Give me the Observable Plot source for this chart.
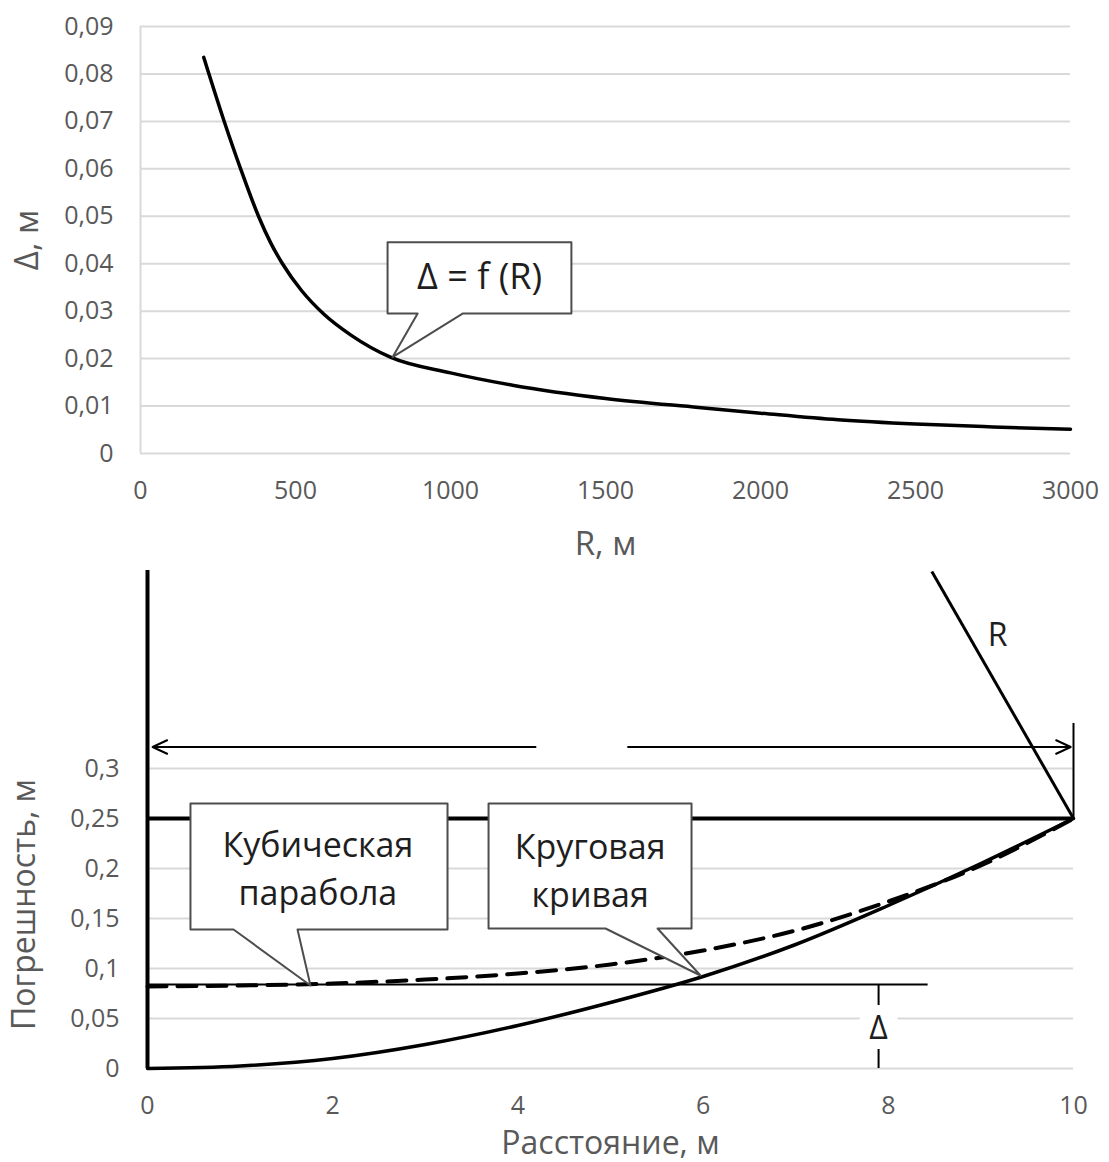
<!DOCTYPE html>
<html><head><meta charset="utf-8">
<script src="https://cdn.jsdelivr.net/npm/d3@7"></script>
<script src="https://cdn.jsdelivr.net/npm/@observablehq/plot@0.6"></script>
<style>
body{margin:0;background:#fff;}
#wrap{width:1109px;}
#wrap svg{display:block;}
</style>
</head><body><div id="wrap"></div>
<script>
// ---------- Top chart data: Δ = f(R) ----------
const topR     = [204, 269, 323, 382, 420, 457, 520, 591, 680, 806, 1000, 1200, 1500, 1800, 2000, 2250, 2500, 2750, 3000];
const topDelta = [0.0835, 0.0702, 0.060, 0.0498, 0.0444, 0.0401, 0.0343, 0.0294, 0.0249, 0.0203, 0.0170, 0.0144, 0.0116, 0.0097, 0.0085, 0.0071, 0.0062, 0.0056, 0.0051];
const topXTicks = [0, 500, 1000, 1500, 2000, 2500, 3000];
const topYTicks = [0, 0.01, 0.02, 0.03, 0.04, 0.05, 0.06, 0.07, 0.08, 0.09];
const topXTitle = "R, м";
const topYTitle = "Δ, м";
const topCalloutText = ["Δ = f (R)"];
const topCalloutTextX = [1094];
const topCalloutTextY = [0.0371];
// callout box: x0, x1, yTop, yBot, pointer base left/right, tip
const topCallout = [{id: "f", x0: 797, x1: 1390, yTop: 0.0445, yBot: 0.0295, pl: 894, pr: 1039, tipX: 813, tipY: 0.0203}];

// ---------- Bottom chart data ----------
const dist    = [0, 1, 2, 3, 4, 5, 6, 7, 8, 9, 10];
const circErr = [0, 0.0025, 0.010, 0.024, 0.043, 0.066, 0.092, 0.124, 0.163, 0.205, 0.25];
const cubErr  = [0.082, 0.083, 0.085, 0.089, 0.095, 0.104, 0.118, 0.138, 0.167, 0.203, 0.25];
const botXTicks = [0, 2, 4, 6, 8, 10];
const botYTicks = [0, 0.05, 0.1, 0.15, 0.2, 0.25, 0.3];
const botXTitle = "Расстояние, м";
const botYTitle = "Погрешность, м";
const botYMax = 0.5;
// schematic lines (data units)
const shiftLevel = [0.25];
const deltaLevel = [{y: 0.084, x1: 0, x2: 8.43}];
const axisLine = [{x: 0, y1: 0, y2: 0.498}];
const radiusLine = [{x1: 8.47, y1: 0.497, x2: 10, y2: 0.25}];
const radiusLabel = [{x: 9.18, y: 0.433, t: "R"}];
const arrows = [
  {x1: 4.19, x2: 0.055, y: 0.3215},
  {x1: 5.19, x2: 9.97, y: 0.3215}
];
const endTick = [{x: 10, y1: 0.25, y2: 0.345}];
const deltaMark = [{x: 7.895, y: 0.040, t: "Δ"}];
const deltaSegs = [{x: 7.895, y1: 0.084, y2: 0.063}, {x: 7.895, y1: 0.019, y2: 0}];
const botCallouts = [
  {id: "cub", x0: 0.464, x1: 3.240, yTop: 0.265, yBot: 0.139, pl: 0.929, pr: 1.620, tipX: 1.760, tipY: 0.083, t: "Кубическая\nпарабола", tx: 1.84, ty: 0.203},
  {id: "circ", x0: 3.683, x1: 5.875, yTop: 0.265, yBot: 0.140, pl: 4.946, pr: 5.508, tipX: 5.972, tipY: 0.093, t: "Круговая\nкривая", tx: 4.78, ty: 0.201}
];

// ---------- helpers ----------
const fmt = d => d === 0 ? "0" : String(d).replace(".", ",");
function calloutPoly(list) {
  const pts = [];
  for (const c of list) {
    [[c.x0, c.yTop], [c.x1, c.yTop], [c.x1, c.yBot], [c.pr, c.yBot], [c.tipX, c.tipY],
     [c.pl, c.yBot], [c.x0, c.yBot], [c.x0, c.yTop]].forEach(([x, y]) => pts.push({id: c.id, x, y}));
  }
  return pts;
}
const FONT = "'Open Sans', 'Noto Sans', sans-serif";
const GRID = "#d9d9d9";
const LABEL = "#595959";
const TEXT = "#1e1e1e";

const topData = topR.map((R, i) => ({R, d: topDelta[i]}));
const circData = dist.map((x, i) => ({x, y: circErr[i]}));
const cubData = dist.map((x, i) => ({x, y: cubErr[i]}));

const topPlot = Plot.plot({
  width: 1109, height: 560,
  marginLeft: 140, marginRight: 39, marginTop: 26, marginBottom: 107,
  style: {fontFamily: FONT, fontSize: "25px", color: LABEL, background: "#fff", overflow: "visible"},
  x: {domain: [0, 3000]},
  y: {domain: [0, 0.09]},
  marks: [
    Plot.gridY(topYTicks, {stroke: GRID, strokeOpacity: 1, strokeWidth: 2}),
    Plot.ruleX([0], {y1: 0, y2: 0.09, stroke: GRID, strokeWidth: 2}),
    Plot.axisY(topYTicks, {tickSize: 0, tickPadding: 27, tickFormat: fmt, label: null}),
    Plot.axisX(topXTicks, {tickSize: 0, tickPadding: 28, tickFormat: d => String(d), label: null}),
    Plot.text([topYTitle], {text: d => d, frameAnchor: "left", textAnchor: "middle", lineAnchor: "middle", dx: -113, rotate: -90, fontSize: 33, fill: LABEL}),
    Plot.text([topXTitle], {text: d => d, frameAnchor: "bottom", textAnchor: "middle", lineAnchor: "middle", dy: 91, fontSize: 33, fill: LABEL}),
    Plot.line(topData, {x: "R", y: "d", stroke: "#000", strokeWidth: 3.5, curve: "monotone-x"}),
    Plot.line(calloutPoly(topCallout), {x: "x", y: "y", z: "id", fill: "#fff", stroke: "#4d4d4d", strokeWidth: 2, curve: "linear"}),
    Plot.text(topCalloutText, {x: topCalloutTextX, y: topCalloutTextY, text: d => d, fontSize: 36, fill: TEXT})
  ]
});

const botPlot = Plot.plot({
  width: 1109, height: 602,
  marginLeft: 147, marginRight: 36, marginTop: 8, marginBottom: 94,
  style: {fontFamily: FONT, fontSize: "25px", color: LABEL, background: "#fff", overflow: "visible"},
  x: {domain: [0, 10]},
  y: {domain: [0, botYMax]},
  marks: [
    Plot.gridY(botYTicks, {stroke: GRID, strokeOpacity: 1, strokeWidth: 2}),
    Plot.text(deltaMark, {x: "x", y: "y", text: "t", fontSize: 32, fill: "#fff", stroke: "#fff", strokeWidth: 31}),
    Plot.axisY(botYTicks, {tickSize: 0, tickPadding: 28, tickFormat: fmt, label: null}),
    Plot.axisX(botXTicks, {tickSize: 0, tickPadding: 28, tickFormat: d => String(d), label: null}),
    Plot.text([botYTitle], {text: d => d, frameAnchor: "left", textAnchor: "middle", lineAnchor: "middle", dx: -123, dy: 86, rotate: -90, fontSize: 32, fill: LABEL}),
    Plot.text([botXTitle], {text: d => d, frameAnchor: "bottom", textAnchor: "middle", lineAnchor: "middle", dy: 75, fontSize: 32, fill: LABEL}),
    Plot.ruleY(deltaLevel, {y: "y", x1: "x1", x2: "x2", stroke: "#000", strokeWidth: 2}),
    Plot.ruleX(deltaSegs, {x: "x", y1: "y1", y2: "y2", stroke: "#000", strokeWidth: 2}),
    Plot.text(deltaMark, {x: "x", y: "y", text: "t", fontSize: 32, fill: TEXT}),
    Plot.line(circData, {x: "x", y: "y", stroke: "#000", strokeWidth: 3.5, curve: "monotone-x"}),
    Plot.line(cubData, {x: "x", y: "y", stroke: "#000", strokeWidth: 4, strokeDasharray: "19,11", curve: "monotone-x"}),
    Plot.ruleY(shiftLevel, {x1: 0, x2: 10, stroke: "#000", strokeWidth: 4}),
    Plot.ruleX(axisLine, {x: "x", y1: "y1", y2: "y2", stroke: "#000", strokeWidth: 4}),
    Plot.link(radiusLine, {x1: "x1", y1: "y1", x2: "x2", y2: "y2", stroke: "#000", strokeWidth: 3}),
    Plot.ruleX(endTick, {x: "x", y1: "y1", y2: "y2", stroke: "#000", strokeWidth: 2}),
    Plot.arrow(arrows, {x1: "x1", x2: "x2", y1: "y", y2: "y", stroke: "#000", strokeWidth: 2, headLength: 12, headAngle: 50}),
    Plot.text(radiusLabel, {x: "x", y: "y", text: "t", fontSize: 32, fill: TEXT}),
    Plot.line(calloutPoly(botCallouts), {x: "x", y: "y", z: "id", fill: "#fff", stroke: "#4d4d4d", strokeWidth: 2, curve: "linear"}),
    Plot.text(botCallouts, {x: "tx", y: "ty", text: "t", fontSize: 34, lineHeight: 1.41, fill: TEXT})
  ]
});

document.getElementById("wrap").append(topPlot, botPlot);
</script>
</body></html>
